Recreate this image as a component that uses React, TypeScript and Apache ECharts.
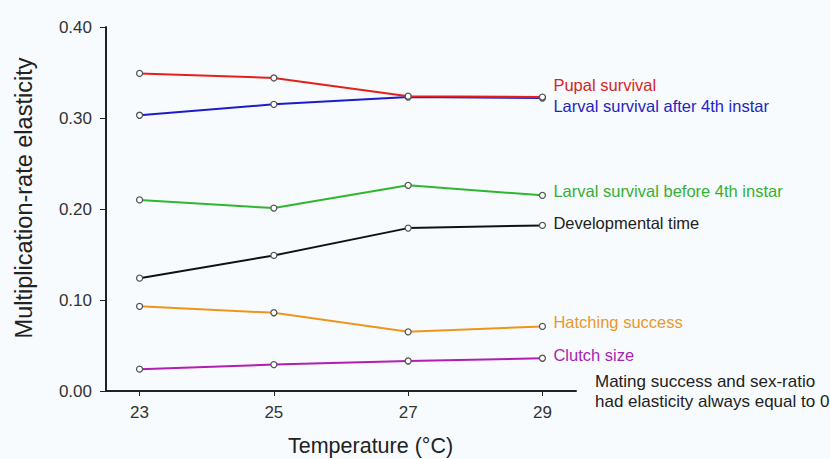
import React, { useEffect, useRef } from "react";
import * as echarts from "echarts";

const temperatures = [23, 25, 27, 29];
const pupalSurvival = [0.349, 0.344, 0.324, 0.323];
const larvalAfter4th = [0.303, 0.315, 0.323, 0.322];
const larvalBefore4th = [0.21, 0.201, 0.226, 0.215];
const developmentalTime = [0.124, 0.149, 0.179, 0.182];
const hatchingSuccess = [0.093, 0.086, 0.065, 0.071];
const clutchSize = [0.024, 0.029, 0.033, 0.036];

const seriesNames = [
  "Pupal survival",
  "Larval survival after 4th instar",
  "Larval survival before 4th instar",
  "Developmental time",
  "Hatching success",
  "Clutch size",
];
const seriesValues = [pupalSurvival, larvalAfter4th, larvalBefore4th, developmentalTime, hatchingSuccess, clutchSize];
const lineColors = ["#e3201c", "#1c1cc8", "#2fb62f", "#111111", "#f0941c", "#b41cb4"];
const labelColors = ["#d82424", "#2424c4", "#34b034", "#222222", "#e8982c", "#a824b0"];
const labelOffsets = [
  [0, -12],
  [0, 8],
  [0, -4],
  [0, -2],
  [0, -4],
  [0, -3],
];

const xTitle = "Temperature (°C)";
const yTitle = "Multiplication-rate elasticity";
const note = "Mating success and sex-ratio\nhad elasticity always equal to 0";

const FONT = "Liberation Sans, Arial, sans-serif";

export default function App() {
  const ref = useRef<HTMLDivElement>(null);
  useEffect(() => {
    if (!ref.current) return;
    const chart = echarts.init(ref.current, undefined, { renderer: "svg" });
    chart.setOption({
      animation: false,
      backgroundColor: "#f8fbfd",
      textStyle: { fontFamily: FONT },
      grid: { left: 106, top: 27, right: 254, bottom: 68, containLabel: false },
      xAxis: {
        type: "value",
        min: 22.5,
        max: 29.5,
        axisLine: { show: true, onZero: false, lineStyle: { color: "#222", width: 2 } },
        axisTick: { show: true, length: 5, customValues: temperatures, lineStyle: { color: "#222" } },
        axisLabel: { customValues: temperatures, fontSize: 17, color: "#333", margin: 13, fontFamily: FONT },
        splitLine: { show: false },
      },
      yAxis: {
        type: "value",
        min: 0,
        max: 0.4,
        interval: 0.1,
        axisLine: { show: true, lineStyle: { color: "#222", width: 2 } },
        axisTick: { show: true, length: 6, lineStyle: { color: "#222" } },
        axisLabel: {
          fontSize: 17,
          color: "#333",
          margin: 14,
          fontFamily: FONT,
          formatter: (v: number) => v.toFixed(2),
        },
        splitLine: { show: false },
      },
      series: seriesNames.map((name, i) => ({
        name,
        type: "line",
        data: temperatures.map((t, j) => [t, seriesValues[i][j]]),
        symbol: "circle",
        symbolSize: 6,
        lineStyle: { color: lineColors[i], width: 2 },
        itemStyle: { color: "#ffffff", borderColor: "#555", borderWidth: 1.3 },
        z: 10 - i,
        endLabel: {
          show: true,
          formatter: name,
          color: labelColors[i],
          fontSize: 16.5,
          fontFamily: FONT,
          distance: 11,
          offset: labelOffsets[i],
        },
      })),
      graphic: [
        {
          type: "text",
          x: 288,
          y: 446,
          style: {
            text: xTitle,
            fontSize: 21.5,
            fill: "#222",
            fontFamily: FONT,
            textAlign: "left",
            textVerticalAlign: "middle",
          },
        },
        {
          type: "text",
          x: 24,
          y: 198,
          rotation: Math.PI / 2,
          style: {
            text: yTitle,
            fontSize: 23.5,
            fill: "#222",
            fontFamily: FONT,
            textAlign: "center",
            textVerticalAlign: "middle",
          },
        },
        {
          type: "text",
          left: 595,
          top: 371,
          style: {
            text: note,
            fontSize: 17,
            lineHeight: 20,
            fill: "#222",
            fontFamily: FONT,
          },
        },
      ],
    });
    return () => chart.dispose();
  }, []);
  return <div ref={ref} style={{ width: 830, height: 459, position: "absolute", left: 0, top: 0 }} />;
}
